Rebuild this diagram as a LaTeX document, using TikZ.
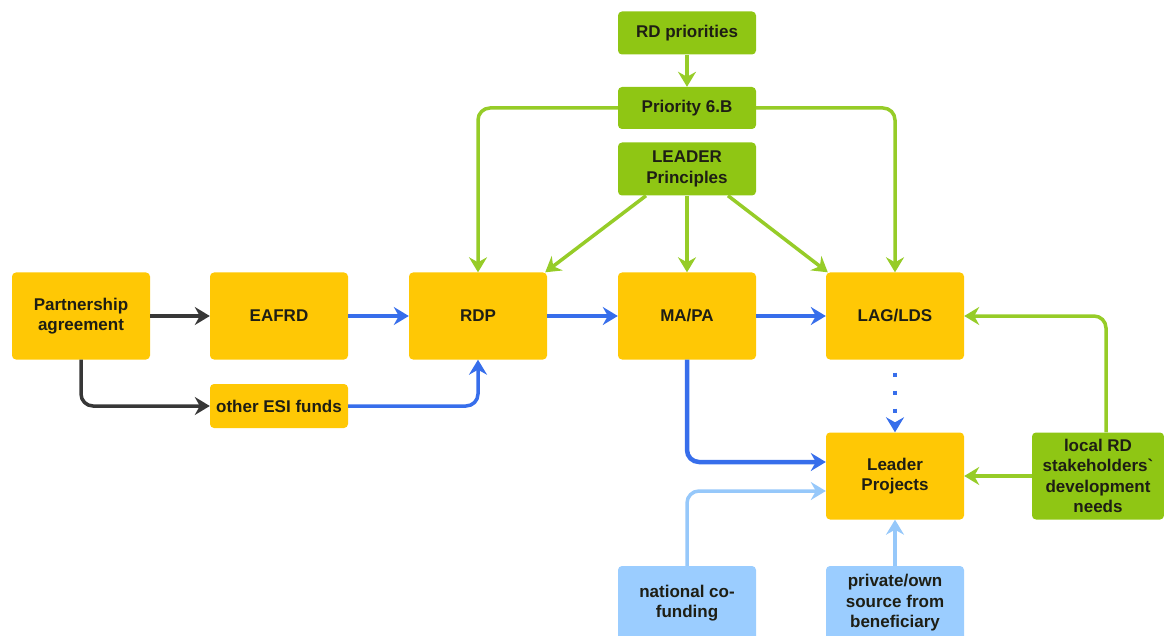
\documentclass[tikz,border=0pt]{standalone}
\usepackage{fontspec}
\setmainfont{Liberation Sans}
\newfontfamily\rawfont{Liberation Sans}
\usetikzlibrary{arrows.meta}
\definecolor{orbox}{RGB}{255,200,5}
\definecolor{grbox}{RGB}{143,198,20}
\definecolor{grline}{RGB}{150,204,40}
\definecolor{blline}{RGB}{55,110,235}
\definecolor{lbbox}{RGB}{155,205,255}
\definecolor{lbline}{RGB}{150,200,250}
\definecolor{dkline}{RGB}{55,55,55}
\definecolor{txt}{RGB}{30,30,20}
\tikzset{
  box/.style={rounded corners=4pt, minimum width=138pt, minimum height=87pt, inner sep=0pt,
    align=center, text=txt, font=\fontsize{17}{20.5}\selectfont\bfseries},
  obox/.style={box, fill=orbox},
  gbox/.style={box, fill=grbox},
  lbox/.style={box, fill=lbbox},
  arr/.style={line width=3.5pt, -{Stealth[length=15pt,width=18pt,inset=5pt]}},
  dk/.style={arr, draw=dkline},
  bl/.style={arr, draw=blline},
  gr/.style={arr, draw=grline},
  lb/.style={arr, draw=lbline},
}
\begin{document}
\begin{tikzpicture}[x=1pt,y=-1pt]
\useasboundingbox (0,0) rectangle (1164,636);
% nodes
\node[obox] (pa) at (81,316) {Partnership\\agreement};
\node[obox] (eafrd) at (279,316) {EAFRD};
\node[obox] (rdp) at (478,316) {RDP};
\node[obox] (mapa) at (687,316) {MA/PA};
\node[obox] (lag) at (895,316) {LAG/LDS};
\node[obox, minimum height=44pt] (esi) at (279,406) {other ESI funds};
\node[gbox, minimum height=43pt] (rdpri) at (687,33) {RD priorities};
\node[gbox, minimum height=42pt] (p6b) at (687,108) {Priority 6.B};
\node[gbox, minimum height=53pt] (lead) at (687,169) {LEADER\\Principles};
\node[obox] (lp) at (895,476) {Leader\\Projects};
\node[gbox, minimum width=132pt] (loc) at (1098,476) {local RD\\stakeholders{\rawfont\bfseries\symbol{96}}\\development\\needs};
\node[lbox, minimum height=74pt] (nat) at (687,603) {national co-\\funding};
\node[lbox, minimum height=74pt] (priv) at (895,603) {private/own\\source from\\beneficiary};
% dark connectors
\draw[dk] (pa.east) -- (eafrd.west);
\draw[dk, rounded corners=12pt] (pa.south) |- (esi.west);
% blue connectors
\draw[bl] (eafrd.east) -- (rdp.west);
\draw[bl, rounded corners=12pt] (esi.east) -| (rdp.south);
\draw[bl] (rdp.east) -- (mapa.west);
\draw[bl] (mapa.east) -- (lag.west);
\draw[bl, line width=4.5pt, rounded corners=12pt] (mapa.south) |- ([yshift=14pt]lp.west);
\draw[bl, dash pattern=on 4pt off 14pt] ([yshift=-13pt]lag.south) -- (lp.north);
% light blue
\draw[lb, rounded corners=12pt] (nat.north) |- ([yshift=-15pt]lp.west);
\draw[lb] (priv.north) -- (lp.south);
% green
\draw[gr] (rdpri.south) -- (p6b.north);
\draw[gr, rounded corners=12pt] (p6b.west) -| (rdp.north);
\draw[gr, rounded corners=12pt] (p6b.east) -| (lag.north);
\draw[gr] ([xshift=-41pt]lead.south) -- ([xshift=-2pt]rdp.north east);
\draw[gr] (lead.south) -- (mapa.north);
\draw[gr] ([xshift=41pt]lead.south) -- ([xshift=2pt]lag.north west);
\draw[gr] (loc.west) -- (lp.east);
\draw[gr, rounded corners=12pt] ([xshift=8pt]loc.north) |- (lag.east);
\end{tikzpicture}
\end{document}
